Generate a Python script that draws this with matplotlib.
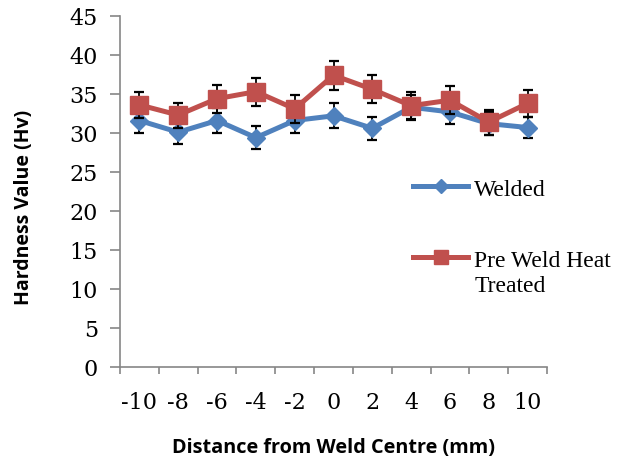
import numpy as np
import matplotlib
matplotlib.use("Agg")
from matplotlib import pyplot as plt

# data
distance = [-10, -8, -6, -4, -2, 0, 2, 4, 6, 8, 10]
welded = [31.6, 30.1, 31.6, 29.4, 31.6, 32.2, 30.6, 33.3, 32.7, 31.2, 30.7]
welded_err = [1.6, 1.5, 1.6, 1.45, 1.6, 1.6, 1.5, 1.6, 1.6, 1.5, 1.4]
preheat = [33.6, 32.3, 34.4, 35.3, 33.1, 37.4, 35.6, 33.5, 34.2, 31.4, 33.8]
preheat_err = [1.7, 1.6, 1.8, 1.8, 1.8, 1.85, 1.8, 1.7, 1.8, 1.6, 1.7]
y_ticks = [0, 5, 10, 15, 20, 25, 30, 35, 40, 45]

blue = "#4F81BD"
red = "#C0504D"
axis_grey = "#868686"

fig = plt.figure(figsize=(6.27, 4.64), dpi=100)
ax = fig.add_axes([0.1914, 0.2069, 0.681, 0.7565])

x = np.arange(len(distance))

# error bars sit under the markers of their own series
ax.errorbar(x, welded, yerr=welded_err, fmt="none", ecolor="black",
            elinewidth=1.3, capsize=3.6, capthick=1.6, zorder=2)
ax.plot(x, welded, color=blue, lw=3.6, marker="D", ms=9.5,
        label="Welded", zorder=3)
ax.errorbar(x, preheat, yerr=preheat_err, fmt="none", ecolor="black",
            elinewidth=1.3, capsize=3.6, capthick=1.6, zorder=4)
ax.plot(x, preheat, color=red, lw=3.6, marker="s", ms=13.5,
        label="Pre Weld Heat", zorder=5)

ax.set_xlim(-0.5, len(distance) - 0.5)
ax.set_ylim(0, 45)
ax.set_yticks(y_ticks)
ax.set_xticks(x)
ax.set_xticklabels([str(d) for d in distance])
ax.set_xticks(np.arange(len(distance) + 1) - 0.5, minor=True)

for side in ["top", "right"]:
    ax.spines[side].set_visible(False)
for side in ["left", "bottom"]:
    ax.spines[side].set_color(axis_grey)
    ax.spines[side].set_linewidth(1.2)

ax.tick_params(axis="y", direction="out", length=7, width=1.2, color=axis_grey, pad=9)
ax.tick_params(axis="x", which="major", length=0, pad=17)
ax.tick_params(axis="x", which="minor", direction="out", length=5, width=1.2, color=axis_grey)
for lab in ax.get_xticklabels() + ax.get_yticklabels():
    lab.set_fontfamily("DejaVu Serif")
    lab.set_fontsize(16)

fig.text(333 / 627, 0.035, "Distance from Weld Centre (mm)", ha="center", va="center",
         fontfamily="Open Sans", fontweight="bold", fontsize=14.3)
fig.text(0.038, 0.553, "Hardness Value (Hv)", ha="center", va="center", rotation=90,
         fontfamily="Open Sans", fontweight="bold", fontsize=14)

leg_font = {"family": "Liberation Serif", "size": 17}
leg = ax.legend(loc="upper left", bbox_to_anchor=(413 / 627, 1 - 179 / 464),
                bbox_transform=fig.transFigure, frameon=False, borderpad=0,
                borderaxespad=0, handlelength=2.35, handletextpad=0.25,
                labelspacing=2.1, markerscale=0.75, prop=leg_font)
leg.set_zorder(10)

# second line of the red entry sits under its first line, as in the source
fig.canvas.draw()
first = leg.get_texts()[1].get_window_extent()
fig.text(first.x0 / fig.bbox.width, (first.y0 - 25) / fig.bbox.height, "Treated",
         ha="left", va="bottom", fontfamily="Liberation Serif", fontsize=17, zorder=10)

fig.savefig("out.png", dpi=100)
